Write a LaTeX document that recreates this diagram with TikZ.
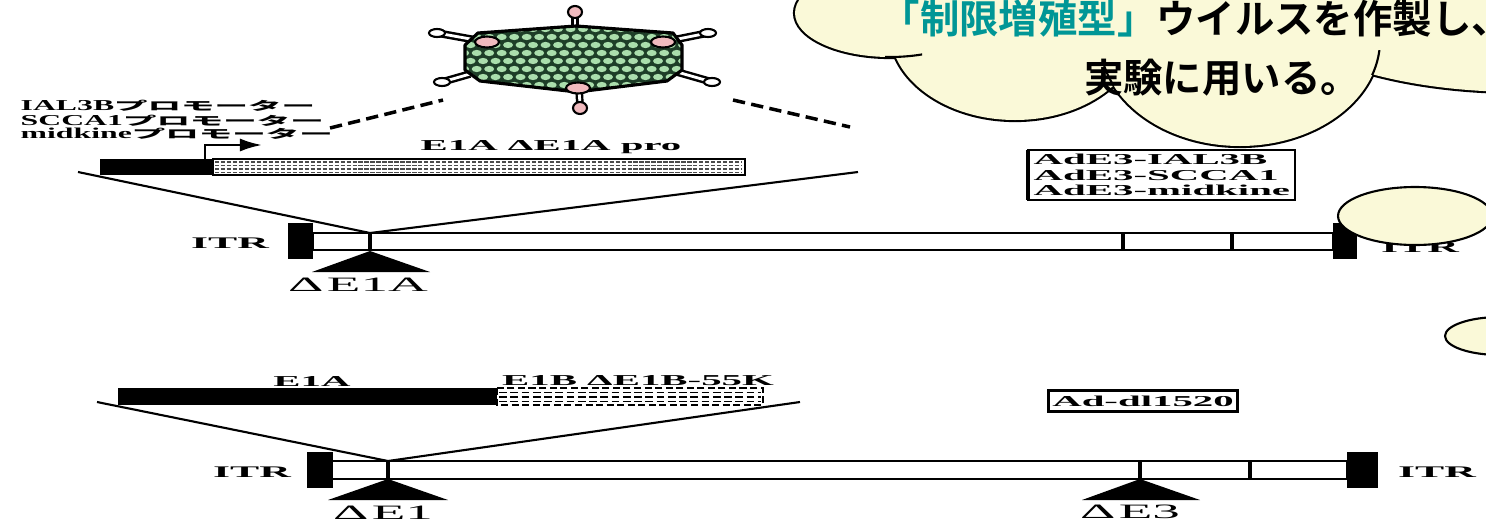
\documentclass[tikz,border=0pt]{standalone}
\usepackage{fontspec}
\usetikzlibrary{arrows.meta}
\newfontfamily\cloudfont{Noto Sans CJK JP Bold}
\newfontfamily\seriflbl{Liberation Serif}[FakeStretch=2.7]
\newfontfamily\promlbl{Liberation Serif}[FakeStretch=2.1]
\newfontfamily\promkana{Noto Sans CJK JP Bold}[FakeStretch=2.8]
\definecolor{cloudfill}{RGB}{250,249,216}
\definecolor{hilite}{RGB}{0,150,150}
\definecolor{capsid}{RGB}{30,62,40}
\definecolor{capsomer}{RGB}{170,222,172}
\definecolor{knob}{RGB}{240,186,190}
\tikzset{
  gene/.style={draw,line width=0.6pt,fill=white},
  tick/.style={line width=1pt},
  fan/.style={line width=0.6pt},
  link/.style={line width=1pt,dash pattern=on 3.5pt off 1.8pt},
  lbl/.style={inner sep=0pt,font=\fontsize{4.3}{5.2}\seriflbl\bfseries},
  itrlbl/.style={inner sep=0pt,font=\fontsize{4.6}{5.2}\seriflbl\bfseries},
  dlbl/.style={inner sep=0pt,font=\fontsize{5.8}{7}\seriflbl},
  promlbl/.style={inner sep=0pt,anchor=west,font=\fontsize{4.3}{5.2}\promlbl\bfseries},
  cloudtxt/.style={inner sep=0pt,font=\fontsize{11.2}{13}\cloudfont},
  puff/.style={draw,line width=0.6pt,fill=cloudfill}
}
\newcommand{\kana}[1]{{\fontsize{3.4}{4}\promkana #1}}
\newcommand{\lobes}{890/13/95/44, 1015/30/125/90, 1240/40/140/106, 1520/0/250/92}

\begin{document}
\begin{tikzpicture}[x=0.01cm,y=-0.01cm]
  \useasboundingbox (0,0) rectangle (1486,521);
  \clip (0,0) rectangle (1486,521);

  % ---------- speech cloud ----------
  \foreach \cx/\cy/\rx/\ry in \lobes
    \draw[line width=1.2pt] (\cx,\cy) ellipse [x radius=\rx, y radius=\ry];
  \foreach \cx/\cy/\rx/\ry in \lobes
    \fill[cloudfill] (\cx,\cy) ellipse [x radius=\rx, y radius=\ry];
  \begin{scope}
    \clip (885,40) rectangle (922,70);
    \draw[line width=0.6pt] (890,13) ellipse [x radius=95, y radius=44];
  \end{scope}
  \begin{scope}
    \clip (1098,66) rectangle (1114,86);
    \draw[line width=0.6pt] (1240,40) ellipse [x radius=140, y radius=106];
  \end{scope}
  \begin{scope}
    \clip (1360,50) rectangle (1395,74);
    \draw[line width=0.6pt] (1240,40) ellipse [x radius=140, y radius=106];
  \end{scope}
  \node[cloudtxt,anchor=base west] (say1) at (880,33)
    {\textcolor{hilite}{「制限増殖型」}ウイルスを作製し、};
  \node[cloudtxt,anchor=base] (say2) at (1222,92) {実験に用いる。};

  % ---------- virus particle ----------
  \def\shell{(465,45) -- (478,33) -- (576,26) -- (673,33) -- (682,45) -- (682,70)
    -- (667,81) -- (577,92) -- (480,81) -- (465,70) -- cycle}
  % fibres
  \foreach \ax/\ay/\bx/\by in {487/42/437/33, 663/42/708/33, 470/74/442/82, 677/72/712/82}{
    \draw[line width=2.2pt] (\ax,\ay) -- (\bx,\by);
    \draw[line width=0.8pt,white] (\ax,\ay) -- (\bx,\by);
    \draw[fill=white,line width=0.6pt] (\bx,\by) ellipse [x radius=8, y radius=4];
  }
  \draw[line width=2.2pt] (575,13) -- (575,28);
  \draw[line width=0.8pt,white] (575,16) -- (575,28);
  \draw[line width=2.2pt] (579,88) -- (580,106);
  \draw[line width=0.8pt,white] (579,90) -- (580,104);
  \begin{scope}
    \fill[capsid] \shell;
    \clip \shell;
    \foreach \r in {0,...,8}
      \foreach \c in {0,...,19}
        \fill[capsomer] ({458+\c*12.5+mod(\r,2)*6.2},{29+\r*8}) ellipse [x radius=5, y radius=3.1];
  \end{scope}
  \draw[line width=0.9pt,line join=round] \shell;
  \foreach \kx/\ky in {487/42, 663/42, 578/88}
    \draw[fill=knob,line width=0.6pt] (\kx,\ky) ellipse [x radius=12, y radius=5.5];
  \draw[fill=knob,line width=0.6pt] (575,12) ellipse [x radius=7, y radius=6];
  \draw[fill=knob,line width=0.6pt] (580,108) ellipse [x radius=7, y radius=6];

  % ---------- promoter inserts ----------
  \node[promlbl] (prom1) at (20,106) {IAL3B\kana{プロモーター}};
  \node[promlbl] (prom2) at (20,121) {SCCA1\kana{プロモーター}};
  \node[promlbl] (prom3) at (20,134) {midkine\kana{プロモーター}};
  \coordinate (vL0) at (330,128);
  \coordinate (vL1) at (443,100);
  \coordinate (vR0) at (733,100);
  \coordinate (vR1) at (850,127);
  \draw[link] (vL0) -- (vL1);
  \draw[link] (vR0) -- (vR1);

  % E1A cassette
  \node[lbl] (e1aPro) at (551,147) {E1A ΔE1A pro};
  \fill (100,159) rectangle (213,175);
  \draw[line width=0.6pt,fill=white] (213,159) rectangle (745,175);
  \foreach \y in {162,165.5,169,172.5}
    \draw[line width=0.45pt,black!70,dash pattern=on 1.2pt off 0.5pt] (215,\y) -- (742,\y);
  \coordinate (tss) at (205,159);
  \coordinate (tssEnd) at (262,145);
  \draw[line width=0.7pt,-{Latex[length=2.2mm,width=1.3mm]}] (tss) |- (tssEnd);

  % ---------- upper genome ----------
  \coordinate (cutA) at (370,233);
  \coordinate (fanA1) at (78,172);
  \coordinate (fanA2) at (858,172);
  \draw[fan] (fanA1) -- (cutA);
  \draw[fan] (fanA2) -- (cutA);
  \draw[gene] (313,233) rectangle (1333,250);
  \fill (288,223) rectangle (313,259);
  \fill (1333,223) rectangle (1357,259);
  \foreach \x in {370,1123,1232}
    \draw[tick] (\x,233) -- (\x,250);
  \fill (370,251) -- (430,272) -- (312,272) -- cycle;
  \node[dlbl] (dE1A) at (358,285) {Δ\,E1A};
  \node[itrlbl] (itrA1) at (230,243) {ITR};
  \node[itrlbl] (itrA2) at (1420,247) {ITR};
  \node[lbl,font=\fontsize{4.3}{4.5}\seriflbl\bfseries,align=left,anchor=north west] (vecA) at (1033,153)
    {AdE3-IAL3B\\AdE3-SCCA1\\AdE3-midkine};
  \draw[line width=0.4pt] (1028,150) rectangle (1295,200);
  \draw[line width=1.1pt] (1028,150) -- (1028,200);

  % ---------- E1 cassette ----------
  \node[lbl] (e1aLbl) at (312,381) {E1A};
  \node[lbl] (e1bLbl) at (638,381) {E1B ΔE1B-55K};
  \fill (118,388) rectangle (497,405);
  \draw[line width=0.5pt,dash pattern=on 2pt off 1pt] (497,388) rectangle (763,405);
  \foreach \y in {392.5,397,401.5}
    \draw[line width=0.45pt,dash pattern=on 2.2pt off 1pt] (499,\y) -- (761,\y);

  % ---------- lower genome ----------
  \coordinate (cutB) at (388,461);
  \coordinate (fanB1) at (97,402);
  \coordinate (fanB2) at (800,402);
  \draw[fan] (fanB1) -- (cutB);
  \draw[fan] (fanB2) -- (cutB);
  \draw[gene] (332,461) rectangle (1347,479);
  \fill (307,452) rectangle (333,488);
  \fill (1347,452) rectangle (1378,488);
  \foreach \x in {388,1140,1250}
    \draw[tick] (\x,461) -- (\x,479);
  \fill (388,479) -- (448,500) -- (328,500) -- cycle;
  \fill (1140,479) -- (1200,500) -- (1082,500) -- cycle;
  \node[dlbl] (dE1) at (383,513) {Δ\,E1};
  \node[dlbl] (dE3) at (1130,512) {Δ\,E3};
  \node[itrlbl] (itrB1) at (252,472) {ITR};
  \node[itrlbl] (itrB2) at (1437,472) {ITR};
  \node[lbl,draw,line width=0.8pt,inner xsep=1pt,inner ysep=1.5pt] (vecB) at (1143,401) {Ad-dl1520};

  % ---------- small clouds ----------
  \draw[puff] (1415,216) ellipse [x radius=77, y radius=29];
  \draw[puff] (1500,336) ellipse [x radius=55, y radius=19];
\end{tikzpicture}
\end{document}
